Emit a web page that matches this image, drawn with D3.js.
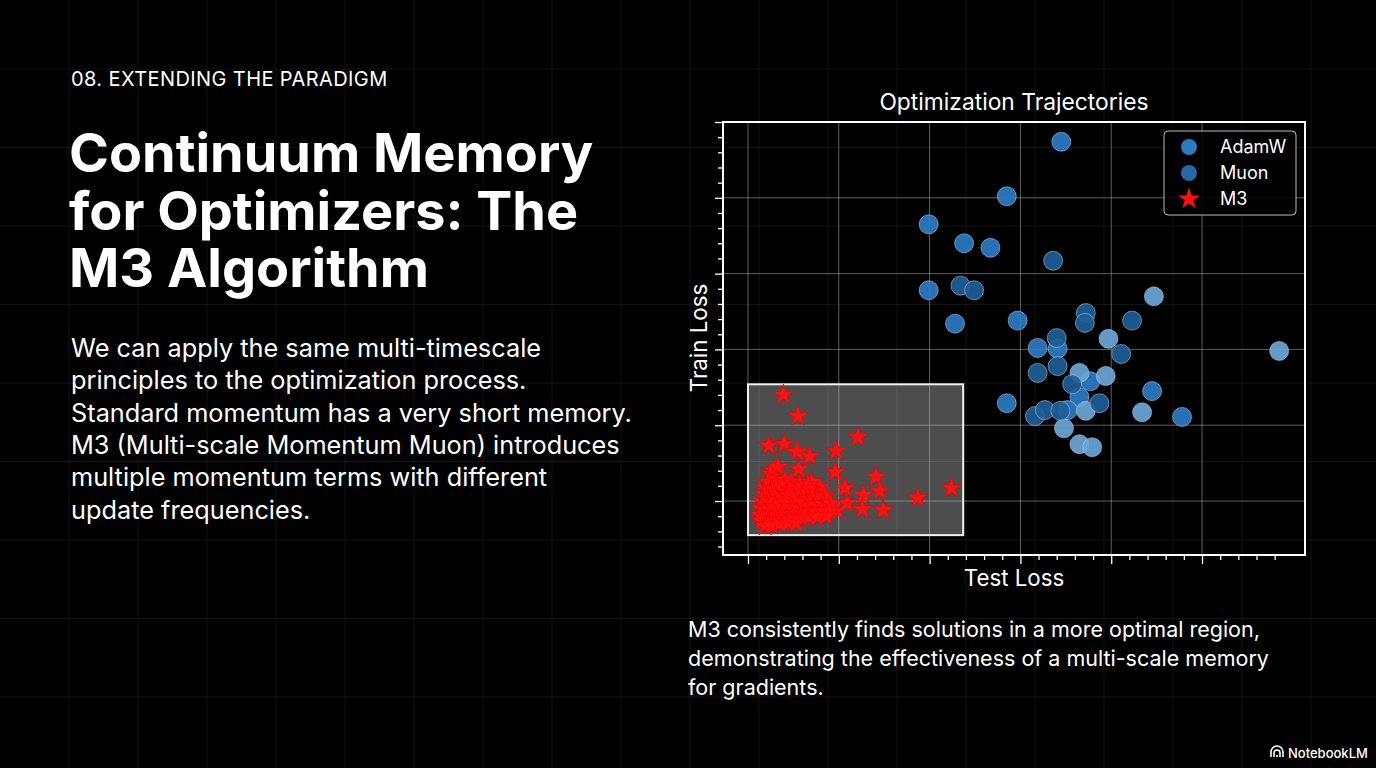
<!DOCTYPE html>
<html>
<head>
<meta charset="utf-8">
<script src="https://cdn.jsdelivr.net/npm/d3@7"></script>
<style>
  html, body { margin: 0; background: #000; }
  svg { display: block; }
  text { font-family: Inter, "Noto Sans", sans-serif; fill: #fff; }
</style>
</head>
<body>
<svg id="slide" width="1376" height="768"></svg>
<script>
// ---- data (test loss, train loss) in axis units ----
const adamw = [
  [3.45, 4.74], [2.85, 4.02], [1.99, 3.65], [2.38, 3.40], [2.67, 3.34],
  [1.99, 2.78], [2.28, 2.34], [2.97, 2.38], [3.19, 2.02], [3.77, 1.58],
  [3.65, 1.37], [4.45, 1.45], [2.85, 1.29], [3.52, 1.20], [4.78, 1.11],
  [3.41, 2.01]
];
const adamwLate = [
  [4.47, 2.70], [3.97, 2.14], [5.85, 1.98], [3.65, 1.69], [3.94, 1.65],
  [3.72, 1.19], [4.34, 1.17], [3.48, 0.96], [3.65, 0.75], [3.79, 0.71]
];
const muon = [
  [3.36, 3.17], [2.34, 2.84], [2.49, 2.78], [3.72, 2.48], [3.71, 2.35],
  [4.23, 2.38], [3.40, 2.15], [4.11, 1.94], [3.41, 1.78], [3.19, 1.69],
  [3.57, 1.54], [3.87, 1.29], [3.16, 1.12], [3.27, 1.20], [3.44, 1.19]
];
const m3 = [
  [0.39, 1.40], [0.55, 1.12], [0.23, 0.73], [0.40, 0.75], [0.54, 0.65],
  [0.68, 0.59], [0.97, 0.66], [1.21, 0.84], [0.56, 0.42], [0.28, 0.40],
  [0.96, 0.38], [1.41, 0.32], [1.07, 0.17], [1.45, 0.13], [1.27, 0.08],
  [1.87, 0.04], [2.24, 0.17], [1.26, -0.11], [1.49, -0.12], [0.98, -0.12],
  [1.09, -0.03], [0.79, 0.18], [0.70, 0.25],
  [0.25, 0.36], [0.31, 0.29], [0.22, 0.25], [0.33, 0.45], [0.19, 0.18],
  [0.26, 0.16], [0.35, 0.20], [0.46, 0.17], [0.41, 0.28], [0.48, 0.25],
  [0.57, 0.22], [0.66, 0.21], [0.18, 0.09], [0.25, 0.08], [0.34, 0.11],
  [0.43, 0.08], [0.52, 0.12], [0.61, 0.09], [0.69, 0.15], [0.15, 0.00],
  [0.23, -0.01], [0.32, 0.01], [0.41, -0.01], [0.50, 0.01], [0.58, -0.01],
  [0.67, 0.03], [0.76, 0.05], [0.85, 0.07], [0.14, -0.09], [0.22, -0.11],
  [0.30, -0.08], [0.39, -0.11], [0.47, -0.08], [0.56, -0.09], [0.65, -0.07],
  [0.74, -0.05], [0.83, -0.04], [0.91, -0.03], [0.13, -0.18], [0.21, -0.20],
  [0.29, -0.17], [0.37, -0.18], [0.46, -0.16], [0.55, -0.17], [0.64, -0.15],
  [0.73, -0.13], [0.81, -0.13], [0.90, -0.13], [0.15, -0.26], [0.23, -0.28],
  [0.32, -0.25], [0.41, -0.25], [0.50, -0.22], [0.58, -0.22], [0.67, -0.21],
  [0.76, -0.21], [0.86, -0.20], [0.19, -0.33], [0.26, -0.32], [0.35, -0.30],
  [0.44, -0.29], [0.53, -0.29]
];
// region highlighted around M3 solutions: [x0, x1, y0, y1]
const m3Region = [0.0, 2.37, -0.45, 1.54];

const xMajor = d3.range(0, 6);
const xMinor = d3.range(1, 30).map(i => i / 5).filter(v => v % 1 !== 0);
const yMajor = d3.range(0, 6);
const yMinor = d3.range(-3, 25).map(i => i / 5).filter(v => Math.abs(v % 1) > 1e-9);

const legendItems = ['AdamW', 'Muon', 'M3'];
const seriesColor = {AdamW: '#2c7bc2', AdamWLate: '#6ca6d6', Muon: '#1f5e96', M3: '#ff1010'};

const eyebrow = '08. EXTENDING THE PARADIGM';
const titleLines = ['Continuum Memory', 'for Optimizers: The', 'M3 Algorithm'];
const bodyLines = [
  'We can apply the same multi-timescale',
  'principles to the optimization process.',
  'Standard momentum has a very short memory.',
  'M3 (Multi-scale Momentum Muon) introduces',
  'multiple momentum terms with different',
  'update frequencies.'
];
const captionLines = [
  'M3 consistently finds solutions in a more optimal region,',
  'demonstrating the effectiveness of a multi-scale memory',
  'for gradients.'
];

// ---- layout ----
const W = 1376, H = 768;
const svg = d3.select('#slide');
const plot = {left: 723, right: 1305, top: 122, bottom: 555};

// background graph paper
const bg = svg.append('g').attr('class', 'bg-grid');
bg.selectAll('line.v')
  .data(d3.range(69, W, 69))
  .join('line')
    .attr('x1', d => d).attr('x2', d => d)
    .attr('y1', 0).attr('y2', H)
    .attr('stroke', '#fff').attr('stroke-opacity', 0.07);
bg.selectAll('line.h')
  .data(d3.range(69, H, 78.5))
  .join('line')
    .attr('x1', 0).attr('x2', W)
    .attr('y1', d => d).attr('y2', d => d)
    .attr('stroke', '#fff').attr('stroke-opacity', 0.07);

// ---- scales ----
const x = d3.scaleLinear().domain([-0.275, 6.134]).range([plot.left, plot.right]);
const y = d3.scaleLinear().domain([-0.712, 5.0]).range([plot.bottom, plot.top]);

const chart = svg.append('g').attr('class', 'chart');

// shaded M3 region
chart.append('rect')
  .attr('x', x(m3Region[0]))
  .attr('y', y(m3Region[3]))
  .attr('width', x(m3Region[1]) - x(m3Region[0]))
  .attr('height', y(m3Region[2]) - y(m3Region[3]))
  .attr('fill', '#fff').attr('fill-opacity', 0.3);

// grid
chart.append('g')
  .selectAll('line')
  .data(xMajor)
  .join('line')
    .attr('x1', d => x(d)).attr('x2', d => x(d))
    .attr('y1', plot.top).attr('y2', plot.bottom)
    .attr('stroke', '#bbb').attr('stroke-opacity', 0.5);
chart.append('g')
  .selectAll('line')
  .data(yMajor.slice(0, 5))
  .join('line')
    .attr('x1', plot.left).attr('x2', plot.right)
    .attr('y1', d => y(d)).attr('y2', d => y(d))
    .attr('stroke', '#bbb').attr('stroke-opacity', 0.5);

chart.append('rect')
  .attr('x', x(m3Region[0]))
  .attr('y', y(m3Region[3]))
  .attr('width', x(m3Region[1]) - x(m3Region[0]))
  .attr('height', y(m3Region[2]) - y(m3Region[3]))
  .attr('fill', 'none').attr('stroke', '#f2f2f2').attr('stroke-width', 2);

// circles
function drawCircles(data, color) {
  chart.append('g')
    .selectAll('circle')
    .data(data)
    .join('circle')
      .attr('cx', d => x(d[0]))
      .attr('cy', d => y(d[1]))
      .attr('r', 9.5)
      .attr('fill', color)
      .attr('fill-opacity', 0.92)
      .attr('stroke', '#a9d2f3')
      .attr('stroke-opacity', 0.55)
      .attr('stroke-width', 1);
}
drawCircles(adamw, seriesColor.AdamW);
drawCircles(adamwLate, seriesColor.AdamWLate);
drawCircles(muon, seriesColor.Muon);

// stars
const star = d3.symbol().type(d3.symbolStar).size(135);
chart.append('g')
  .selectAll('path')
  .data(m3)
  .join('path')
    .attr('transform', d => `translate(${x(d[0])},${y(d[1])})`)
    .attr('d', star)
    .attr('fill', seriesColor.M3)
    .attr('fill-opacity', 0.92)
    .attr('stroke', '#e00')
    .attr('stroke-width', 0.6);

// frame
chart.append('rect')
  .attr('x', plot.left).attr('y', plot.top)
  .attr('width', plot.right - plot.left)
  .attr('height', plot.bottom - plot.top)
  .attr('fill', 'none').attr('stroke', '#fff').attr('stroke-width', 2);

// ticks
function styleAxis(g) {
  g.select('.domain').remove();
  g.selectAll('.tick line').attr('stroke', '#fff').attr('stroke-width', 1.3);
  g.selectAll('.tick text').remove();
}
chart.append('g')
  .attr('transform', `translate(0,${plot.bottom + 1})`)
  .call(d3.axisBottom(x).tickValues(xMinor).tickSize(4).tickFormat(''))
  .call(styleAxis);
chart.append('g')
  .attr('transform', `translate(0,${plot.bottom + 1})`)
  .call(d3.axisBottom(x).tickValues(xMajor).tickSize(8).tickFormat(''))
  .call(styleAxis);
chart.append('g')
  .attr('transform', `translate(${plot.left - 1},0)`)
  .call(d3.axisLeft(y).tickValues(yMinor).tickSize(4).tickFormat(''))
  .call(styleAxis);
chart.append('g')
  .attr('transform', `translate(${plot.left - 1},0)`)
  .call(d3.axisLeft(y).tickValues(yMajor).tickSize(7).tickFormat(''))
  .call(styleAxis);

// axis labels and title
chart.append('text')
  .attr('x', 1014).attr('y', 110)
  .attr('text-anchor', 'middle')
  .style('font-size', '22.8px')
  .text('Optimization Trajectories');
chart.append('text')
  .attr('x', 1014).attr('y', 586)
  .attr('text-anchor', 'middle')
  .style('font-size', '22.3px')
  .text('Test Loss');
chart.append('text')
  .attr('transform', `translate(707,338) rotate(-90)`)
  .attr('text-anchor', 'middle')
  .style('font-size', '22.3px')
  .text('Train Loss');

// legend
const legend = chart.append('g').attr('transform', 'translate(1164,131)');
legend.append('rect')
  .attr('width', 132).attr('height', 84).attr('rx', 4)
  .attr('fill', '#000').attr('fill-opacity', 0.85)
  .attr('stroke', '#bbb').attr('stroke-width', 1);
const li = legend.selectAll('g.item')
  .data(legendItems)
  .join('g')
    .attr('class', 'item')
    .attr('transform', (d, i) => `translate(25,${16 + i * 26})`);
li.filter(d => d !== 'M3').append('circle')
  .attr('r', 8)
  .attr('fill', d => d === 'AdamW' ? seriesColor.AdamW : '#2a66a2');
li.filter(d => d === 'M3').append('path')
  .attr('d', d3.symbol().type(d3.symbolStar).size(150))
  .attr('fill', seriesColor.M3);
li.append('text')
  .attr('x', 31).attr('dy', '0.35em')
  .style('font-size', '18px')
  .text(d => d);

// ---- slide text ----
svg.append('text')
  .attr('x', 71).attr('y', 86)
  .style('font-size', '20px')
  .style('letter-spacing', '0.4px')
  .text(eyebrow);

svg.append('g')
  .selectAll('text')
  .data(titleLines)
  .join('text')
    .attr('x', 69)
    .attr('y', (d, i) => 172 + i * 57.5)
    .style('font-size', '54px')
    .style('font-weight', 700)
    .text(d => d);

svg.append('g')
  .selectAll('text')
  .data(bodyLines)
  .join('text')
    .attr('x', 71)
    .attr('y', (d, i) => 357 + i * 32.3)
    .style('font-size', '25.3px')
    .text(d => d);

svg.append('g')
  .selectAll('text')
  .data(captionLines)
  .join('text')
    .attr('x', 688)
    .attr('y', (d, i) => 637 + i * 29)
    .style('font-size', '21.5px')
    .text(d => d);

// NotebookLM mark
const logo = svg.append('g').attr('transform', 'translate(1271,753)');
logo.append('path')
  .attr('d', 'M0,4 V-1 A6,6 0 0 1 12,-1 V4 M3,4 V0 A3,3 0 0 1 9,0 V4 M6,4 V2')
  .attr('fill', 'none').attr('stroke', '#fff').attr('stroke-width', 1.6);
logo.append('text')
  .attr('x', 17).attr('y', 5)
  .style('font-size', '13px')
  .style('font-weight', 500)
  .text('NotebookLM');
</script>
</body>
</html>
